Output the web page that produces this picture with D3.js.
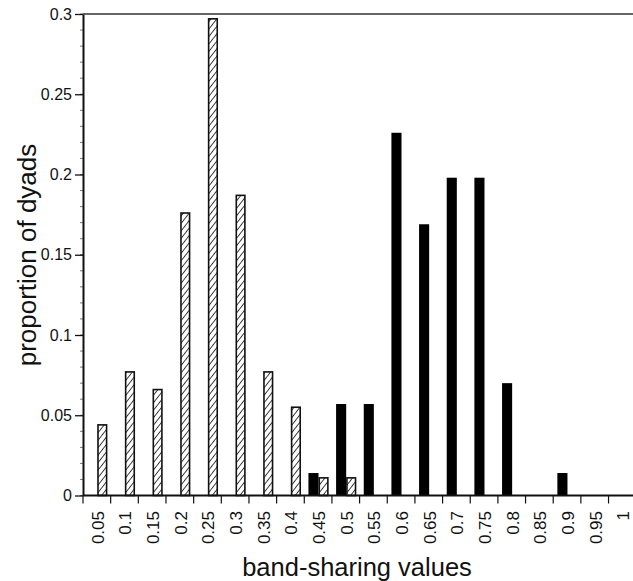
<!DOCTYPE html>
<html>
<head>
<meta charset="utf-8">
<style>
  body { margin: 0; background: #fff; }
  svg text { font-family: "Liberation Sans", Arial, Helvetica, sans-serif; fill: #111; }
</style>
</head>
<body>
<script src="https://d3js.org/d3.v7.min.js"></script>
<svg id="chart" width="633" height="581"></svg>
<script>
  // band-sharing classes
  const categories = ['0.05', '0.1', '0.15', '0.2', '0.25', '0.3', '0.35', '0.4', '0.45', '0.5',
                      '0.55', '0.6', '0.65', '0.7', '0.75', '0.8', '0.85', '0.9', '0.95', '1'];
  // solid bars
  const related = [0, 0, 0, 0, 0, 0, 0, 0, 0.014, 0.057,
                   0.057, 0.226, 0.169, 0.198, 0.198, 0.070, 0, 0.014, 0, 0];
  // hatched bars
  const unrelated = [0.044, 0.077, 0.066, 0.176, 0.297, 0.187, 0.077, 0.055, 0.011, 0.011,
                     0, 0, 0, 0, 0, 0, 0, 0, 0, 0];
  const yTicks = [0, 0.05, 0.1, 0.15, 0.2, 0.25, 0.3];
  const yTickLabels = ['0', '0.05', '0.1', '0.15', '0.2', '0.25', '0.3'];
  const seriesNames = ['related', 'unrelated'];

  const svg = d3.select('#chart');
  const plotLeft = 83, plotTop = 14, plotBottom = 495.5, step = 27.66;

  const x0 = d3.scaleBand().domain(categories).range([plotLeft, plotLeft + step * categories.length]);
  const x1 = d3.scaleBand().domain(seriesNames)
               .range([x0.bandwidth() * 0.15, x0.bandwidth() * 0.88]);
  const y = d3.scaleLinear().domain([0, 0.3]).range([plotBottom, plotTop]);

  // hatch pattern
  const pat = svg.append('defs').append('pattern')
    .attr('id', 'hatch').attr('patternUnits', 'userSpaceOnUse')
    .attr('width', 10).attr('height', 4.6)
    .attr('patternTransform', 'rotate(-52)');
  pat.append('rect').attr('width', 10).attr('height', 4.6).attr('fill', '#fff');
  pat.append('line').attr('x1', 0).attr('x2', 10).attr('y1', 2.3).attr('y2', 2.3)
     .attr('stroke', '#222').attr('stroke-width', 0.9);

  const rows = categories.map((c, i) => ({cat: c, related: related[i], unrelated: unrelated[i]}));

  // minor ticks on y axis
  svg.append('g').selectAll('line')
    .data(d3.range(0, 31).map(d => d / 100))
    .enter().append('line')
    .attr('x1', plotLeft - 3).attr('x2', plotLeft)
    .attr('y1', d => y(d)).attr('y2', d => y(d))
    .attr('stroke', '#555').attr('stroke-width', 0.8);

  // y axis
  const yAxis = d3.axisLeft(y).tickValues(yTicks)
    .tickFormat((d, i) => yTickLabels[i]).tickSize(8).tickPadding(3).tickSizeOuter(0);
  const gy = svg.append('g').attr('transform', `translate(${plotLeft},0)`).call(yAxis);
  gy.selectAll('text').attr('font-size', '16px');
  gy.selectAll('line, path').attr('stroke', '#111').attr('stroke-width', 1.3);
  gy.select('path').attr('stroke-width', 2);

  // bars
  const groups = svg.append('g').selectAll('g')
    .data(rows).enter().append('g')
    .attr('transform', d => `translate(${x0(d.cat)},0)`);

  groups.filter(d => d.unrelated > 0).append('rect')
    .attr('x', x1('unrelated') + 0.75)
    .attr('width', x1.bandwidth() - 1.5)
    .attr('y', d => y(d.unrelated))
    .attr('height', d => y(0) - y(d.unrelated))
    .attr('fill', 'url(#hatch)')
    .attr('stroke', '#111').attr('stroke-width', 1.6);

  groups.filter(d => d.related > 0).append('rect')
    .attr('x', x1('related'))
    .attr('width', x1.bandwidth())
    .attr('y', d => y(d.related))
    .attr('height', d => y(0) - y(d.related))
    .attr('fill', '#000');

  // x axis line and top frame line
  svg.append('line').attr('x1', plotLeft).attr('x2', 633).attr('y1', y(0)).attr('y2', y(0))
     .attr('stroke', '#111').attr('stroke-width', 1.8);
  svg.append('line').attr('x1', plotLeft).attr('x2', 633).attr('y1', y(0.3)).attr('y2', y(0.3))
     .attr('stroke', '#333').attr('stroke-width', 1.3);

  // x ticks at category boundaries
  svg.append('g').selectAll('line')
    .data(categories).enter().append('line')
    .attr('x1', d => x0(d)).attr('x2', d => x0(d))
    .attr('y1', y(0)).attr('y2', y(0) + 8)
    .attr('stroke', '#111').attr('stroke-width', 1.2);

  // x tick labels
  svg.append('g').selectAll('text')
    .data(categories).enter().append('text')
    .attr('transform', d => `translate(${x0(d) + x0.bandwidth() / 2 + 7},511) rotate(-90)`)
    .attr('text-anchor', 'end')
    .attr('font-size', '17px')
    .text(d => d);

  // titles
  svg.append('text')
    .attr('x', 357).attr('y', 576)
    .attr('text-anchor', 'middle').attr('font-size', '25.5px')
    .text('band-sharing values');

  svg.append('text')
    .attr('transform', 'translate(36,255) rotate(-90)')
    .attr('text-anchor', 'middle').attr('font-size', '26px')
    .text('proportion of dyads');
</script>
</body>
</html>
